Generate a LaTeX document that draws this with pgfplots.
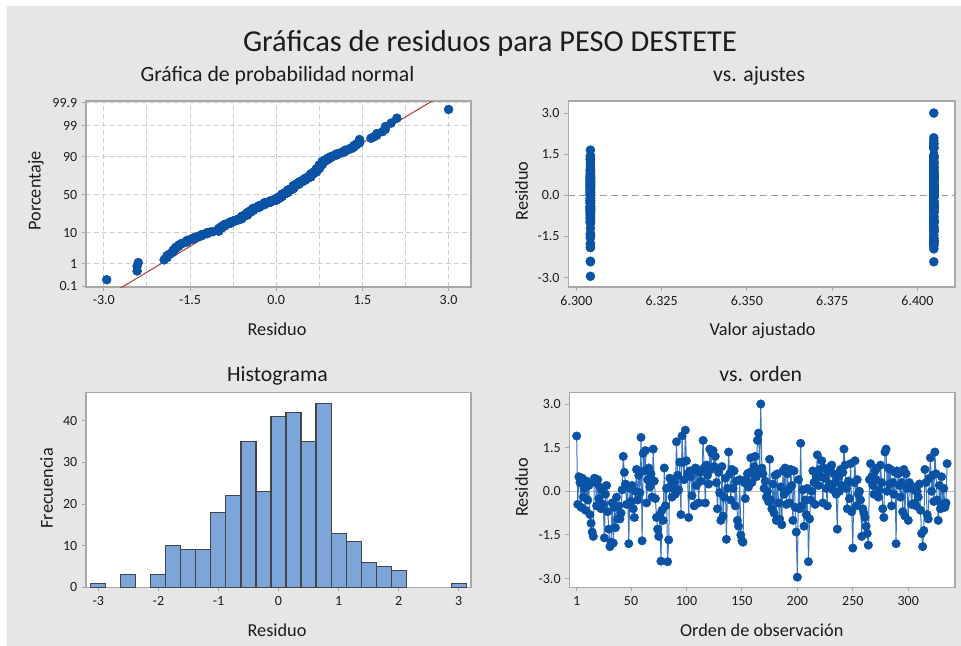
\documentclass[border=0pt]{standalone}
\usepackage{fontspec}
\setmainfont{Carlito}
\usepackage{pgfplots}
\usepackage{pgfplotstable}
\pgfplotsset{compat=1.18}

\definecolor{bggray}{HTML}{E6E6E6}
\definecolor{framegray}{HTML}{A8A8A8}
\definecolor{gridgray}{HTML}{CDCDCD}
\definecolor{refgray}{HTML}{9A9A9A}
\definecolor{zerogray}{HTML}{BDBDBD}
\definecolor{dotblue}{HTML}{0A52A3}
\definecolor{lineblue}{HTML}{3A78C2}
\definecolor{barblue}{HTML}{7CA6DA}
\definecolor{baredge}{HTML}{454545}
\definecolor{fitred}{HTML}{B5443C}
\definecolor{textdark}{HTML}{1C1C1C}

% normal score of the plotting position (k-0.3)/(n+0.4), n = 335
% (rational approximation, Abramowitz & Stegun 26.2.23)
\newcommand\rankprobit[1]{%
  \begingroup
    \pgfkeys{/pgf/fpu=true,/pgf/fpu/output format=fixed}%
    \pgfmathparse{(#1-0.3)/335.4}\let\rpP\pgfmathresult
    \pgfmathparse{(335.7-#1)/335.4}\let\rpQ\pgfmathresult
    \pgfmathparse{min(\rpP,\rpQ)}\let\rpM\pgfmathresult
    \pgfmathparse{sqrt(-2*ln(\rpM))}\let\rpT\pgfmathresult
    \pgfmathparse{\rpT-(2.515517+0.802853*\rpT+0.010328*\rpT*\rpT)/(1+1.432788*\rpT+0.189269*\rpT*\rpT+0.001308*\rpT*\rpT*\rpT)}\let\rpZ\pgfmathresult
    \ifdim\rpP pt<0.5pt
      \pgfmathparse{-1*\rpZ}%
    \else
      \pgfmathparse{\rpZ}%
    \fi
    \xdef\rpResult{\pgfmathresult}%
  \endgroup
  \let\pgfmathresult\rpResult
}

\pgfplotsset{
  panel/.style={
    scale only axis,
    axis background/.style={fill=white},
    axis line style={framegray, line width=0.9pt},
    tick align=outside,
    xtick pos=left, ytick pos=left,
    major tick length=3pt,
    tick style={framegray, line width=0.7pt},
    tick label style={font=\fontsize{10.5}{12}\selectfont, text=textdark},
    /pgf/number format/assume math mode=true,
  },
  probit ranks/.style={y coord trafo/.code={\rankprobit{##1}}},
  onedec/.style={/pgf/number format/.cd, fixed, fixed zerofill, precision=1},
  dot/.style={mark=*, mark size=#1, mark options={solid, fill=dotblue, draw=dotblue, line width=0.3pt}},
}

% residuals in observation order; f = fitted value
\pgfplotstableread{
i r f
1 1.90 6.4048
2 -0.45 6.4048
3 0.50 6.3041
4 0.30 6.4048
5 -0.55 6.3041
6 0.45 6.4048
7 -0.20 6.3041
8 0.10 6.4048
9 -0.65 6.3041
10 0.35 6.4048
11 -0.30 6.3041
12 0.20 6.4048
13 -0.80 6.3041
14 -1.10 6.4048
15 -1.40 6.3041
16 -1.55 6.4048
17 0.45 6.3041
18 0.30 6.4048
19 -0.50 6.3041
20 0.40 6.4048
21 -0.25 6.3041
22 0.15 6.4048
23 -0.60 6.3041
24 0.05 6.4048
25 -0.45 6.3041
26 -1.60 6.4048
27 -0.10 6.3041
28 0.20 6.4048
29 -0.70 6.3041
30 -1.30 6.4048
31 -1.90 6.3041
32 -1.75 6.4048
33 -0.40 6.3041
34 -1.78 6.4048
35 -0.55 6.3041
36 -1.25 6.4048
37 -0.20 6.3041
38 -0.95 6.4048
39 -0.50 6.3041
40 -0.95 6.4048
41 -0.75 6.3041
42 0.05 6.4048
43 1.20 6.3041
44 0.65 6.4048
45 0.25 6.3041
46 -0.45 6.4048
47 0.15 6.3041
48 -1.80 6.4048
49 0.10 6.3041
50 -0.35 6.4048
51 0.20 6.3041
52 -0.60 6.4048
53 -0.90 6.3041
54 0.00 6.4048
55 0.75 6.3041
56 -0.30 6.4048
57 0.55 6.3041
58 -0.05 6.4048
59 1.85 6.4048
60 -1.70 6.4048
61 1.30 6.3041
62 0.70 6.4048
63 1.40 6.3041
64 -0.40 6.4048
65 0.40 6.3041
66 0.80 6.4048
67 0.15 6.3041
68 0.60 6.4048
69 -0.20 6.3041
70 1.45 6.4048
71 0.35 6.3041
72 -0.25 6.4048
73 -0.90 6.3041
74 -1.30 6.4048
75 -1.55 6.3041
76 -0.80 6.4048
77 -2.40 6.3041
78 -0.65 6.4048
79 -1.00 6.3041
80 0.80 6.4048
81 -0.50 6.3041
82 0.10 6.4048
83 -2.42 6.3041
84 -1.67 6.4048
85 0.45 6.3041
86 0.20 6.4048
87 -0.20 6.3041
88 0.10 6.4048
89 0.30 6.3041
90 -0.10 6.4048
91 1.70 6.4048
92 0.55 6.4048
93 0.05 6.3041
94 1.00 6.4048
95 -0.80 6.3041
96 1.90 6.4048
97 1.00 6.3041
98 0.40 6.4048
99 2.10 6.4048
100 1.05 6.4048
101 0.60 6.3041
102 -0.90 6.4048
103 0.70 6.3041
104 0.50 6.4048
105 -0.15 6.3041
106 0.70 6.4048
107 -0.50 6.3041
108 0.80 6.4048
109 0.20 6.3041
110 0.75 6.4048
111 -0.40 6.3041
112 0.65 6.4048
113 0.35 6.3041
114 0.70 6.4048
115 1.75 6.4048
116 0.80 6.4048
117 -0.40 6.3041
118 0.90 6.4048
119 0.55 6.3041
120 0.25 6.4048
121 1.45 6.3041
122 0.75 6.4048
123 1.30 6.3041
124 1.40 6.4048
125 0.85 6.3041
126 1.20 6.4048
127 0.30 6.3041
128 -0.60 6.4048
129 0.65 6.3041
130 -0.05 6.4048
131 -1.00 6.3041
132 0.85 6.4048
133 -0.85 6.3041
134 -0.20 6.4048
135 0.45 6.3041
136 -1.65 6.4048
137 0.10 6.3041
138 1.35 6.4048
139 0.60 6.3041
140 -0.30 6.4048
141 0.75 6.3041
142 0.10 6.4048
143 0.70 6.3041
144 -0.50 6.4048
145 0.35 6.3041
146 -1.00 6.4048
147 -1.20 6.3041
148 0.40 6.4048
149 -1.50 6.3041
150 -1.70 6.4048
151 -1.75 6.3041
152 0.30 6.4048
153 -0.25 6.3041
154 0.40 6.4048
155 0.60 6.3041
156 0.15 6.4048
157 0.65 6.3041
158 1.15 6.4048
159 0.30 6.3041
160 0.60 6.4048
161 0.85 6.3041
162 1.20 6.4048
163 0.50 6.3041
164 1.75 6.4048
165 2.00 6.4048
166 0.75 6.4048
167 3.00 6.4048
168 0.80 6.4048
169 0.60 6.3041
170 0.10 6.4048
171 0.35 6.3041
172 -0.20 6.4048
173 0.00 6.3041
174 -0.35 6.4048
175 1.10 6.3041
176 -0.30 6.4048
177 -0.60 6.3041
178 0.25 6.4048
179 -0.75 6.3041
180 0.55 6.4048
181 -1.00 6.3041
182 0.60 6.4048
183 -0.40 6.3041
184 -0.95 6.4048
185 0.15 6.3041
186 -1.15 6.4048
187 0.70 6.3041
188 -0.10 6.4048
189 0.80 6.3041
190 -0.45 6.4048
191 0.60 6.3041
192 0.05 6.4048
193 -0.40 6.3041
194 0.75 6.4048
195 0.20 6.3041
196 -1.00 6.4048
197 0.70 6.3041
198 -0.55 6.4048
199 -1.40 6.3041
200 -2.95 6.3041
201 0.40 6.3041
202 -0.60 6.4048
203 1.65 6.3041
204 -0.50 6.4048
205 0.05 6.3041
206 -1.20 6.4048
207 -0.30 6.3041
208 -0.80 6.4048
209 0.10 6.3041
210 -2.42 6.4048
211 -0.95 6.3041
212 -0.30 6.4048
213 0.00 6.3041
214 0.70 6.4048
215 0.30 6.3041
216 -0.45 6.4048
217 0.50 6.3041
218 1.25 6.4048
219 0.20 6.3041
220 0.75 6.4048
221 0.50 6.3041
222 1.05 6.4048
223 -0.40 6.3041
224 0.80 6.4048
225 0.45 6.3041
226 0.10 6.4048
227 -0.50 6.3041
228 0.70 6.4048
229 0.25 6.3041
230 0.85 6.4048
231 0.90 6.3041
232 0.05 6.4048
233 0.60 6.3041
234 0.30 6.4048
235 -0.10 6.3041
236 -1.30 6.4048
237 0.50 6.3041
238 0.00 6.4048
239 0.75 6.3041
240 0.20 6.4048
241 0.65 6.3041
242 1.45 6.4048
243 0.90 6.3041
244 0.10 6.4048
245 -0.60 6.3041
246 0.35 6.4048
247 -0.25 6.3041
248 0.95 6.4048
249 -0.70 6.3041
250 -1.95 6.4048
251 0.30 6.3041
252 1.05 6.4048
253 -0.50 6.3041
254 0.40 6.4048
255 -0.10 6.3041
256 0.00 6.4048
257 -0.30 6.3041
258 -1.55 6.4048
259 -0.60 6.3041
260 -0.75 6.4048
261 -0.90 6.3041
262 -1.20 6.4048
263 -1.45 6.3041
264 -1.85 6.4048
265 0.40 6.3041
266 0.95 6.4048
267 0.50 6.3041
268 0.20 6.4048
269 -0.10 6.3041
270 0.70 6.4048
271 0.40 6.3041
272 0.80 6.4048
273 -0.20 6.3041
274 0.05 6.4048
275 0.90 6.3041
276 0.30 6.4048
277 -0.60 6.3041
278 -0.90 6.4048
279 1.35 6.3041
280 1.45 6.4048
281 0.00 6.3041
282 0.80 6.4048
283 0.25 6.3041
284 0.75 6.4048
285 -0.50 6.3041
286 0.30 6.4048
287 -0.10 6.3041
288 0.65 6.4048
289 -1.80 6.3041
290 0.70 6.4048
291 0.60 6.3041
292 0.20 6.4048
293 -0.20 6.3041
294 0.30 6.4048
295 -0.70 6.3041
296 0.75 6.4048
297 -0.85 6.3041
298 0.60 6.4048
299 0.10 6.3041
300 -1.00 6.4048
301 0.30 6.3041
302 0.20 6.4048
303 -0.45 6.3041
304 0.15 6.4048
305 0.05 6.3041
306 -0.40 6.4048
307 -0.50 6.3041
308 0.00 6.4048
309 -0.20 6.3041
310 0.25 6.4048
311 -0.65 6.3041
312 -1.45 6.4048
313 -1.90 6.3041
314 -1.35 6.4048
315 0.75 6.3041
316 0.30 6.4048
317 -0.80 6.3041
318 -0.95 6.4048
319 0.45 6.3041
320 1.15 6.4048
321 0.00 6.3041
322 0.55 6.4048
323 -0.35 6.3041
324 1.35 6.4048
325 0.60 6.3041
326 -0.30 6.4048
327 -1.00 6.3041
328 0.20 6.4048
329 -0.60 6.3041
330 0.50 6.4048
331 -0.45 6.3041
332 0.10 6.4048
333 -0.55 6.3041
334 -0.40 6.4048
335 0.95 6.3041
}\resid

% histogram: bin centre and count (bin width 0.25)
\pgfplotstableread{
c n
-3.00 1
-2.50 3
-2.00 3
-1.75 10
-1.50 9
-1.25 9
-1.00 18
-0.75 22
-0.50 35
-0.25 23
0.00 41
0.25 42
0.50 35
0.75 44
1.00 13
1.25 11
1.50 6
1.75 5
2.00 4
3.00 1
}\histo

% residuals in ascending order with their rank
\pgfplotstablesort[sort key=r, sort cmp=float <]{\sorted}{\resid}
\pgfplotstablecreatecol[create col/copy column from table={\resid}{i}]{rank}{\sorted}

\begin{document}
\begin{tikzpicture}
\useasboundingbox (0,0) rectangle (720.75pt,-484.5pt);
\fill[white] (0,0) rectangle (720.75pt,-484.5pt);
\fill[bggray] (5.25pt,-4.5pt) rectangle (720.75pt,-484.5pt);

% normal probability plot
\begin{axis}[panel, probit ranks,
  at={(64.5pt,-215.25pt)}, anchor=south west,
  width=288.75pt, height=139.5pt,
  xmin=-3.31, xmax=3.39,
  ymin=0.6136, ymax=335.426,
  xtick={-3,-1.5,0,1.5,3},
  minor xtick={-2.25,-0.75,0.75,2.25},
  minor tick length=0pt,
  ytick={0.6354,3.654,33.84,168,302.16,332.346,335.365},
  yticklabels={0.1,1,10,50,90,99,99.9},
  xmajorgrids, xminorgrids, ymajorgrids,
  grid style={gridgray, dash pattern=on 3.5pt off 2.5pt, line width=0.7pt},
  xticklabel style={onedec},
]
\addplot[fitred, line width=0.8pt] coordinates {(-2.842,0.462) (2.842,335.538)};
\addplot[only marks, dot=3.4pt] table[x=r, y=rank] {\sorted};
\end{axis}

% residuals versus fits
\begin{axis}[panel,
  at={(426.2pt,-215.25pt)}, anchor=south west,
  width=290pt, height=139.5pt,
  xmin=6.2976, xmax=6.411, ymin=-3.34, ymax=3.44,
  xtick={6.3,6.325,6.35,6.375,6.4},
  ytick={-3,-1.5,0,1.5,3},
  scaled x ticks=false,
  xticklabel style={/pgf/number format/.cd, fixed, fixed zerofill, precision=3},
  yticklabel style={onedec},
]
\addplot[refgray, dash pattern=on 5pt off 3pt, line width=0.9pt] coordinates {(6.2976,0) (6.411,0)};
\addplot[only marks, dot=3.4pt] table[x=f, y=r] {\resid};
\end{axis}

% histogram
\begin{axis}[panel, ybar, bar width=0.25,
  at={(64.5pt,-440.5pt)}, anchor=south west,
  width=288.75pt, height=146pt,
  xmin=-3.206, xmax=3.206, ymin=0, ymax=46.7,
  xtick={-3,-2,-1,0,1,2,3},
  ytick={0,10,20,30,40},
]
\addplot[fill=barblue, draw=baredge, line width=0.8pt] table[x=c, y=n] {\histo};
\end{axis}

% residuals versus order
\begin{axis}[panel,
  at={(427pt,-440.5pt)}, anchor=south west,
  width=289.3pt, height=146.25pt,
  xmin=-5.6, xmax=342.2, ymin=-3.3, ymax=3.4,
  xtick={1,50,100,150,200,250,300},
  ytick={-3,-1.5,0,1.5,3},
  yticklabel style={onedec},
]
\addplot[zerogray, line width=0.8pt] coordinates {(-5.6,0) (342.2,0)};
\addplot[lineblue, line width=0.75pt, dot=3.2pt] table[x=i, y=r] {\resid};
\end{axis}

% titles and axis labels
\node[anchor=base, text=textdark, font=\fontsize{22.8}{27}\selectfont] at (367.5pt,-38.25pt) {Gráficas de residuos para PESO DESTETE};
\begin{scope}[every node/.style={anchor=base, text=textdark, font=\fontsize{16.3}{19}\selectfont}]
\node at (208.1pt,-60.75pt) {Gráfica de probabilidad normal};
\node at (569.3pt,-60.75pt) {vs. ajustes};
\node at (208.1pt,-285.75pt) {Histograma};
\node at (570.5pt,-285.75pt) {vs. orden};
\end{scope}
\begin{scope}[every node/.style={anchor=base, text=textdark, font=\fontsize{13.7}{16}\selectfont}]
\node at (207.75pt,-251.5pt) {Residuo};
\node at (571.9pt,-251.25pt) {Valor ajustado};
\node at (207.75pt,-477.5pt) {Residuo};
\node at (571.3pt,-477.5pt) {Orden de observación};
\end{scope}
\begin{scope}[every node/.style={rotate=90, text=textdark, font=\fontsize{13.7}{16}\selectfont}]
\node at (27pt,-143.25pt) {Porcentaje};
\node at (391.25pt,-143.1pt) {Residuo};
\node at (35pt,-366.25pt) {Frecuencia};
\node at (391.25pt,-365.6pt) {Residuo};
\end{scope}
\end{tikzpicture}
\end{document}
